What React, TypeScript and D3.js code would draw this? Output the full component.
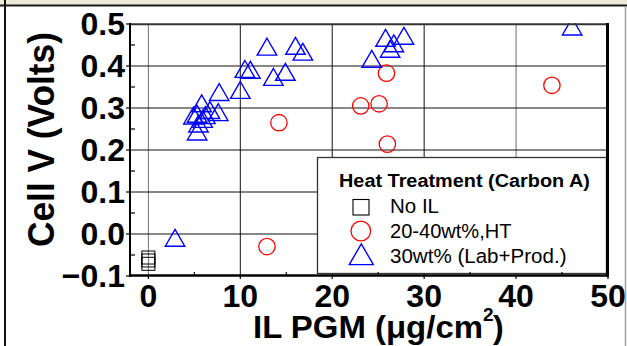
import React from "react";
import * as d3 from "d3";

// ---- data ----
const noIL_x = [0, 0, 0];
const noIL_y = [-0.056, -0.063, -0.071];

const ht_x = [12.9, 14.2, 23.1, 25.1, 25.9, 26.0, 43.9];
const ht_y = [-0.03, 0.265, 0.305, 0.31, 0.383, 0.214, 0.354];

const lab_x = [
  2.9, 5.3, 5.45, 5.9, 6.2, 4.9, 5.3, 7.6, 6.7, 5.8, 7.7, 10.0, 10.5, 11.1,
  13.6, 14.9, 12.9, 16.0, 16.8, 24.3, 26.3, 26.7, 25.8, 27.8, 46.1,
];
const lab_y = [
  -0.009, 0.244, 0.263, 0.274, 0.283, 0.282, 0.286, 0.29, 0.295, 0.311, 0.338,
  0.343, 0.393, 0.391, 0.374, 0.386, 0.446, 0.448, 0.434, 0.417, 0.441, 0.454,
  0.467, 0.472, 0.494,
];

const xTicks = [0, 10, 20, 30, 40, 50];
const xMinor = [5, 15, 25, 35, 45];
const yTicks = [-0.1, 0.0, 0.1, 0.2, 0.3, 0.4, 0.5];
const yMinor = [-0.05, 0.05, 0.15, 0.25, 0.35, 0.45];
const xGrid = [0, 10, 20, 30, 40];
const yGrid = [0.0, 0.1, 0.2, 0.3, 0.4];

const legendTitle = "Heat Treatment (Carbon A)";
const legendLabels = ["No IL", "20-40wt%,HT", "30wt% (Lab+Prod.)"];

const FONT = "'Liberation Sans', Arial, Helvetica, sans-serif";

export default function App() {
  const W = 627;
  const H = 346;
  const left = 130;
  const right = 608;
  const top = 24;
  const bottom = 276;

  const x = d3.scaleLinear().domain([-2, 50]).range([left, right]);
  const y = d3.scaleLinear().domain([-0.1, 0.5]).range([bottom, top]);

  const tri = (cx: number, cy: number, w: number) => {
    const h = w * 0.866;
    return `M${cx},${cy - h / 2}L${cx + w / 2},${cy + h / 2}L${cx - w / 2},${cy + h / 2}Z`;
  };

  const yFmt = d3.format(".1f");

  return (
    <svg
      width={W}
      height={H}
      style={{ position: "absolute", left: 0, top: 0, background: "#fff" }}
      fontFamily={FONT}
    >
      <defs>
        <clipPath id="plotClip">
          <rect x={left} y={top - 1} width={right - left} height={bottom - top + 1} />
        </clipPath>
      </defs>
      {/* window frame */}
      <rect x={0} y={0} width={W} height={5} fill="#ece9d8" />
      <line x1={0} x2={W} y1={5.5} y2={5.5} stroke="#1a1a1a" strokeWidth={2} />
      <line x1={5} x2={5} y1={0} y2={H} stroke="#111" strokeWidth={2} />
      <line x1={625.5} x2={625.5} y1={6} y2={H} stroke="#a0a0a0" strokeWidth={1.5} />

      {/* grid */}
      {xGrid.map((v) => (
        <line
          key={"gx" + v}
          x1={x(v)}
          x2={x(v)}
          y1={top}
          y2={bottom}
          stroke={v === 0 || v === 40 ? "#707070" : "#111"}
          strokeWidth={1}
        />
      ))}
      {yGrid.map((v) => (
        <line
          key={"gy" + v}
          x1={left}
          x2={right}
          y1={y(v)}
          y2={y(v)}
          stroke="#111"
          strokeWidth={1}
        />
      ))}

      {/* markers */}
      <g clipPath="url(#plotClip)">
        {noIL_x.map((v, i) => (
          <rect
            key={"sq" + i}
            x={x(v) - 6.5}
            y={y(noIL_y[i]) - 6.5}
            width={13}
            height={13}
            fill="none"
            stroke="#000"
            strokeWidth={1}
          />
        ))}
        {ht_x.map((v, i) => (
          <circle
            key={"c" + i}
            cx={x(v)}
            cy={y(ht_y[i])}
            r={8.2}
            fill="none"
            stroke="#ff0000"
            strokeWidth={1.3}
          />
        ))}
        {lab_x.map((v, i) => (
          <path
            key={"t" + i}
            d={tri(x(v), y(lab_y[i]), 19.5)}
            fill="none"
            stroke="#0000ff"
            strokeWidth={1.4}
          />
        ))}
      </g>

      {/* legend */}
      <rect
        x={317.5}
        y={157.5}
        width={289}
        height={116}
        fill="#fff"
        stroke="#333"
        strokeWidth={1.3}
      />
      <text
        x={339}
        y={187}
        fontSize={18}
        fontWeight="bold"
        textLength={251}
        lengthAdjust="spacingAndGlyphs"
      >
        {legendTitle}
      </text>
      <rect x={353} y={199.5} width={16} height={15.5} fill="none" stroke="#000" strokeWidth={1.1} />
      <circle cx={360.8} cy={231} r={9.8} fill="none" stroke="#ff0000" strokeWidth={1.3} />
      <path d={tri(361.3, 254.2, 24)} fill="none" stroke="#0000ff" strokeWidth={1.4} />
      {legendLabels.map((t, i) => (
        <text
          key={"lg" + i}
          x={390}
          y={213.3 + i * 25}
          fontSize={20}
          textLength={[49, 121.5, 176.5][i]}
          lengthAdjust="spacingAndGlyphs"
        >
          {t}
        </text>
      ))}

      {/* axes and borders */}
      <line x1={left} x2={right} y1={top + 0.3} y2={top + 0.3} stroke="#333" strokeWidth={2} />
      <line x1={607.5} x2={607.5} y1={top - 1} y2={bottom + 1} stroke="#000" strokeWidth={3} />
      <line x1={left} x2={left} y1={top - 1} y2={bottom + 1} stroke="#000" strokeWidth={2} />
      <line x1={left - 1} x2={right} y1={bottom - 0.5} y2={bottom - 0.5} stroke="#000" strokeWidth={2.5} />

      {yTicks.map((v) => (
        <line key={"yt" + v} x1={left - 4} x2={left} y1={y(v)} y2={y(v)} stroke="#000" strokeWidth={1.2} />
      ))}
      {yMinor.map((v) => (
        <line key={"ym" + v} x1={left} x2={left + 5} y1={y(v)} y2={y(v)} stroke="#000" strokeWidth={1.2} />
      ))}
      {xTicks.map((v) => (
        <line key={"xt" + v} x1={x(v)} x2={x(v)} y1={bottom} y2={bottom + 3} stroke="#000" strokeWidth={1.2} />
      ))}
      {xMinor.map((v) => (
        <line key={"xm" + v} x1={x(v)} x2={x(v)} y1={bottom - 4} y2={bottom} stroke="#000" strokeWidth={1.2} />
      ))}

      {/* tick labels */}
      {yTicks.map((v) => (
        <text
          key={"yl" + v}
          x={125}
          y={y(v) + 11}
          textAnchor="end"
          fontSize={32}
          fontWeight="bold"
        >
          {yFmt(v)}
        </text>
      ))}
      {xTicks.map((v) => (
        <text
          key={"xl" + v}
          x={x(v)}
          y={307}
          textAnchor="middle"
          fontSize={32}
          fontWeight="bold"
        >
          {v}
        </text>
      ))}

      {/* axis titles */}
      <text
        transform="translate(53.5,139.5) rotate(-90)"
        textAnchor="middle"
        fontSize={36}
        fontWeight="bold"
        textLength={215}
        lengthAdjust="spacingAndGlyphs"
      >
        Cell V (Volts)
      </text>
      <text
        x={253}
        y={338}
        fontSize={32}
        fontWeight="bold"
        textLength={230}
        lengthAdjust="spacingAndGlyphs"
      >
        IL PGM (μg/cm
      </text>
      <text x={483} y={321} fontSize={19} fontWeight="bold">
        2
      </text>
      <text x={493} y={338} fontSize={32} fontWeight="bold">
        )
      </text>
    </svg>
  );
}
